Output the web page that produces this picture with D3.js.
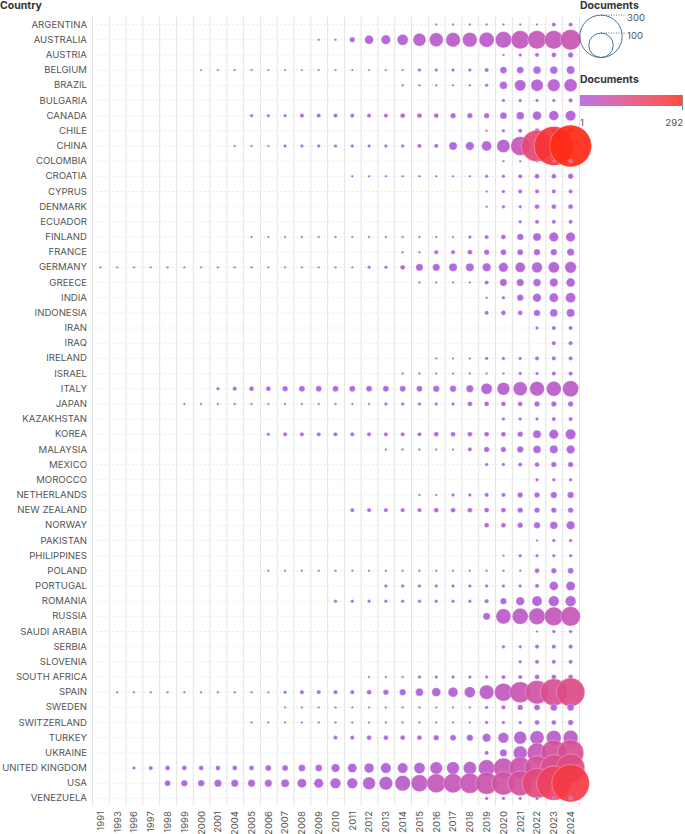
<!DOCTYPE html>
<html>
<head>
<meta charset="utf-8">
<script src="https://cdn.jsdelivr.net/npm/d3@7"></script>
<style>
  html, body { margin: 0; padding: 0; background: #fff; }
  svg { display: block; font-family: Inter, "Noto Sans", sans-serif; }
</style>
</head>
<body>
<svg id="chart" width="685" height="834"></svg>
<script>
const years = [1991, 1993, 1996, 1997, 1998, 1999, 2000, 2001, 2004, 2005, 2006, 2007, 2008, 2009, 2010, 2011, 2012, 2013, 2014, 2015, 2016, 2017, 2018, 2019, 2020, 2021, 2022, 2023, 2024];

const countries = ["ARGENTINA", "AUSTRALIA", "AUSTRIA", "BELGIUM", "BRAZIL", "BULGARIA", "CANADA", "CHILE", "CHINA", "COLOMBIA", "CROATIA", "CYPRUS", "DENMARK", "ECUADOR", "FINLAND", "FRANCE", "GERMANY", "GREECE", "INDIA", "INDONESIA", "IRAN", "IRAQ", "IRELAND", "ISRAEL", "ITALY", "JAPAN", "KAZAKHSTAN", "KOREA", "MALAYSIA", "MEXICO", "MOROCCO", "NETHERLANDS", "NEW ZEALAND", "NORWAY", "PAKISTAN", "PHILIPPINES", "POLAND", "PORTUGAL", "ROMANIA", "RUSSIA", "SAUDI ARABIA", "SERBIA", "SLOVENIA", "SOUTH AFRICA", "SPAIN", "SWEDEN", "SWITZERLAND", "TURKEY", "UKRAINE", "UNITED KINGDOM", "USA", "VENEZUELA"];

// cumulative documents per country (rows) and year (columns, same order as `years`); 0 = no record
const documents = [
  /* ARGENTINA */    [0,0,0,0,0,0,0,0,0,0,0,0,0,0,0,0,0,0,0,0,1,1,1,1,1,1,1,3,3],
  /* AUSTRALIA */    [0,0,0,0,0,0,0,0,0,0,0,0,0,1,1,5,13,15,20,28,32,35,36,38,45,56,57,58,70],
  /* AUSTRIA */      [0,0,0,0,0,0,0,0,0,0,0,0,0,0,0,0,0,0,0,0,0,0,0,0,1,2,3,4,5],
  /* BELGIUM */      [0,0,0,0,0,0,1,1,1,1,1,1,1,1,1,1,1,1,1,2,2,2,2,3,8,8,10,10,11],
  /* BRAZIL */       [0,0,0,0,0,0,0,0,0,0,0,0,0,0,0,0,0,0,1,1,1,1,1,2,10,21,25,26,28],
  /* BULGARIA */     [0,0,0,0,0,0,0,0,0,0,0,0,0,0,0,0,0,0,0,0,0,0,0,0,2,2,2,2,3],
  /* CANADA */       [0,0,0,0,0,0,0,0,0,2,2,2,3,3,3,3,3,3,4,4,4,5,5,5,8,10,13,16,18],
  /* CHILE */        [0,0,0,0,0,0,0,0,0,0,0,0,0,0,0,0,0,0,0,0,0,0,0,1,2,3,4,4,5],
  /* CHINA */        [0,0,0,0,0,0,0,0,1,1,1,2,2,2,2,2,2,2,2,3,3,11,12,17,29,60,165,255,292],
  /* COLOMBIA */     [0,0,0,0,0,0,0,0,0,0,0,0,0,0,0,0,0,0,0,0,0,0,0,0,1,1,1,1,2],
  /* CROATIA */      [0,0,0,0,0,0,0,0,0,0,0,0,0,0,0,1,1,1,1,1,1,1,1,2,2,3,4,4,5],
  /* CYPRUS */       [0,0,0,0,0,0,0,0,0,0,0,0,0,0,0,0,0,0,0,0,0,0,0,1,2,3,3,3,3],
  /* DENMARK */      [0,0,0,0,0,0,0,0,0,0,0,0,0,0,0,0,0,0,0,0,0,0,0,1,2,2,4,4,4],
  /* ECUADOR */      [0,0,0,0,0,0,0,0,0,0,0,0,0,0,0,0,0,0,0,0,0,0,0,0,0,2,3,3,3],
  /* FINLAND */      [0,0,0,0,0,0,0,0,0,1,1,1,1,1,1,1,1,1,1,1,1,1,2,3,4,7,11,15,15],
  /* FRANCE */       [0,0,0,0,0,0,0,0,0,0,0,0,0,0,0,0,0,0,1,1,3,3,4,5,6,6,7,7,9],
  /* GERMANY */      [1,1,1,1,1,1,1,1,1,1,1,1,1,1,1,1,2,2,4,9,9,11,11,12,15,17,19,21,22],
  /* GREECE */       [0,0,0,0,0,0,0,0,0,0,0,0,0,0,0,0,0,0,0,1,1,1,1,3,9,9,10,12,13],
  /* INDIA */        [0,0,0,0,0,0,0,0,0,0,0,0,0,0,0,0,0,0,0,0,0,0,0,1,2,7,12,14,17],
  /* INDONESIA */    [0,0,0,0,0,0,0,0,0,0,0,0,0,0,0,0,0,0,0,0,0,0,0,3,4,4,7,10,11],
  /* IRAN */         [0,0,0,0,0,0,0,0,0,0,0,0,0,0,0,0,0,0,0,0,0,0,0,0,0,0,2,3,3],
  /* IRAQ */         [0,0,0,0,0,0,0,0,0,0,0,0,0,0,0,0,0,0,0,0,0,0,0,0,0,0,0,3,3],
  /* IRELAND */      [0,0,0,0,0,0,0,0,0,0,0,0,0,0,0,0,0,0,0,0,1,1,1,2,2,2,3,3,3],
  /* ISRAEL */       [0,0,0,0,0,0,0,0,0,0,0,0,0,0,0,0,0,0,1,1,1,1,1,1,1,2,2,3,3],
  /* ITALY */        [0,0,0,0,0,0,0,2,3,4,4,5,6,6,6,6,6,6,6,6,7,7,9,21,27,33,36,37,43],
  /* JAPAN */        [0,0,0,0,0,1,1,1,1,1,1,1,1,1,1,1,1,2,2,2,2,2,4,4,4,4,5,5,5],
  /* KAZAKHSTAN */   [0,0,0,0,0,0,0,0,0,0,0,0,0,0,0,0,0,0,0,0,0,0,0,0,2,2,2,3,3],
  /* KOREA */        [0,0,0,0,0,0,0,0,0,0,2,3,3,3,3,3,3,3,3,3,4,4,4,4,4,5,11,15,18],
  /* MALAYSIA */     [0,0,0,0,0,0,0,0,0,0,0,0,0,0,0,0,0,1,1,1,1,1,3,5,5,7,10,11,12],
  /* MEXICO */       [0,0,0,0,0,0,0,0,0,0,0,0,0,0,0,0,0,0,0,0,0,0,0,2,2,3,4,5,5],
  /* MOROCCO */      [0,0,0,0,0,0,0,0,0,0,0,0,0,0,0,0,0,0,0,0,0,0,0,0,0,0,2,2,2],
  /* NETHERLANDS */  [0,0,0,0,0,0,0,0,0,0,0,0,0,0,0,0,0,0,0,1,1,2,2,3,3,5,5,7,7],
  /* NEW ZEALAND */  [0,0,0,0,0,0,0,0,0,0,0,0,0,0,0,3,3,3,3,3,4,4,4,4,4,5,5,5,5],
  /* NORWAY */       [0,0,0,0,0,0,0,0,0,0,0,0,0,0,0,0,0,0,0,0,0,0,0,4,4,5,7,10,12],
  /* PAKISTAN */     [0,0,0,0,0,0,0,0,0,0,0,0,0,0,0,0,0,0,0,0,0,0,0,0,0,0,1,2,2],
  /* PHILIPPINES */  [0,0,0,0,0,0,0,0,0,0,0,0,0,0,0,0,0,0,0,0,0,0,0,0,1,2,2,2,2],
  /* POLAND */       [0,0,0,0,0,0,0,0,0,0,1,1,1,1,1,1,1,1,1,1,1,1,1,1,1,1,4,5,6],
  /* PORTUGAL */     [0,0,0,0,0,0,0,0,0,0,0,0,0,0,0,0,0,2,2,2,2,2,2,2,2,2,3,13,14],
  /* ROMANIA */      [0,0,0,0,0,0,0,0,0,0,0,0,0,0,2,2,2,2,2,2,2,2,2,3,7,12,17,19,19],
  /* RUSSIA */       [0,0,0,0,0,0,0,0,0,0,0,0,0,0,0,0,0,0,0,0,0,0,0,9,38,43,46,58,64],
  /* SAUDI ARABIA */ [0,0,0,0,0,0,0,0,0,0,0,0,0,0,0,0,0,0,0,0,0,0,0,0,0,0,1,2,2],
  /* SERBIA */       [0,0,0,0,0,0,0,0,0,0,0,0,0,0,0,0,0,0,0,0,0,0,0,0,2,2,3,3,3],
  /* SLOVENIA */     [0,0,0,0,0,0,0,0,0,0,0,0,0,0,0,0,0,0,0,0,0,0,0,0,0,2,3,3,3],
  /* SOUTH AFRICA */ [0,0,0,0,0,0,0,0,0,0,0,0,0,0,0,0,1,1,1,2,2,2,2,2,3,3,4,4,4],
  /* SPAIN */        [0,1,1,1,1,1,1,1,1,1,1,2,3,3,3,3,4,5,7,10,13,16,20,35,54,74,91,120,135],
  /* SWEDEN */       [0,0,0,0,0,0,0,0,0,0,0,1,1,1,1,1,1,1,1,1,1,1,1,2,3,5,6,8,8],
  /* SWITZERLAND */  [0,0,0,0,0,0,0,0,0,1,1,1,1,1,1,1,1,1,1,1,1,1,1,2,2,2,4,4,5],
  /* TURKEY */       [0,0,0,0,0,0,0,0,0,0,0,0,0,0,3,3,4,4,4,4,5,6,7,12,19,27,33,36,37],
  /* UKRAINE */      [0,0,0,0,0,0,0,0,0,0,0,0,0,0,0,0,0,0,0,0,0,0,0,3,9,32,65,108,115],
  /* UNITED KINGDOM */[0,0,2,3,4,4,4,4,4,4,6,6,8,8,12,14,16,18,18,21,26,27,29,45,66,80,100,120,135],
  /* USA */          [0,0,0,0,6,7,7,9,9,9,9,11,14,15,19,19,27,30,40,47,60,62,68,80,92,103,150,195,235],
  /* VENEZUELA */    [0,0,0,0,0,0,0,0,0,0,0,0,0,0,0,0,0,0,0,0,0,0,0,2,2,2,2,2,2]
];

const sizeLegendValues = [300, 100];
const colorDomain = [1, 292];

// ---- build points
const points = [];
countries.forEach((c, i) => {
  years.forEach((yr, j) => {
    const v = documents[i][j];
    if (v > 0) points.push({ country: c, year: yr, value: v });
  });
});

const svg = d3.select("#chart");
const plot = { left: 92, right: 579, top: 17, bottom: 806 };

const x = d3.scaleBand().domain(years).range([plot.left, plot.right]);
const y = d3.scaleBand().domain(countries).range([plot.top, plot.bottom]);
const r = d3.scaleSqrt().domain([0, 300]).range([0, 21.2]);
const color = d3.scaleLinear().domain(colorDomain).range(["#a75fe2", "#ff2a16"]).interpolate(d3.interpolateLab);

// grid
const grid = svg.append("g");
grid.selectAll("line.v").data(years.map(d => x(d)).concat([plot.right]))
  .join("line").attr("class", "v")
  .attr("x1", d => d + 0.5).attr("x2", d => d + 0.5)
  .attr("y1", plot.top).attr("y2", plot.bottom)
  .attr("stroke", "#e4e4e4").attr("stroke-width", 1);
grid.selectAll("line.h").data(countries)
  .join("line").attr("class", "h")
  .attr("x1", plot.left).attr("x2", plot.right)
  .attr("y1", d => y(d) + y.bandwidth() / 2).attr("y2", d => y(d) + y.bandwidth() / 2)
  .attr("stroke", "#ececec").attr("stroke-width", 1).attr("stroke-dasharray", "2,2");

// y axis
const yAxis = svg.append("g").attr("transform", `translate(${plot.left},0)`)
  .call(d3.axisLeft(y).tickSize(0).tickPadding(5));
yAxis.select(".domain").remove();
yAxis.selectAll("text").attr("fill", "#555").attr("font-size", 9.6).attr("font-family", "Inter, sans-serif");

// x axis
const xAxis = svg.append("g").attr("transform", `translate(0,${plot.bottom})`)
  .call(d3.axisBottom(x).tickSize(0).tickPadding(0));
xAxis.select(".domain").remove();
xAxis.selectAll("text")
  .attr("fill", "#555").attr("font-size", 9.6).attr("font-family", "Inter, sans-serif")
  .attr("text-anchor", "end")
  .attr("transform", "translate(0,5) rotate(-90)")
  .attr("x", 0).attr("y", 0).attr("dy", "0.35em");

// title
svg.append("text").attr("x", 0).attr("y", 9).text("Country")
  .attr("font-weight", 700).attr("font-size", 10.5).attr("fill", "#333");

// bubbles
svg.append("g").selectAll("circle").data(points).join("circle")
  .attr("cx", d => x(d.year) + x.bandwidth() / 2)
  .attr("cy", d => y(d.country) + y.bandwidth() / 2)
  .attr("r", d => r(d.value))
  .attr("fill", d => color(d.value))
  .attr("fill-opacity", 0.92)
  .attr("stroke", "#fff").attr("stroke-opacity", 0.6).attr("stroke-width", 0.5);

// size legend
const lg = svg.append("g");
lg.append("text").attr("x", 580).attr("y", 9).text("Documents")
  .attr("font-weight", 700).attr("font-size", 10.5).attr("fill", "#333");
const cx0 = 601, base = 57.5;
sizeLegendValues.forEach(v => {
  const rr = r(v);
  lg.append("circle").attr("cx", cx0).attr("cy", base - rr).attr("r", rr)
    .attr("fill", "none").attr("stroke", "#4e7290").attr("stroke-width", 1);
  lg.append("line").attr("x1", cx0).attr("x2", 625)
    .attr("y1", base - 2 * rr).attr("y2", base - 2 * rr)
    .attr("stroke", "#4e7290").attr("stroke-width", 1).attr("stroke-dasharray", "1,1.5");
  lg.append("text").attr("x", 627).attr("y", base - 2 * rr + 3).attr("dy", "0.35em")
    .text(v).attr("font-size", 9.6).attr("fill", "#555");
});

// color legend
const cl = svg.append("g");
cl.append("text").attr("x", 580).attr("y", 83).text("Documents")
  .attr("font-weight", 700).attr("font-size", 10.5).attr("fill", "#333");
const defs = svg.append("defs");
const grad = defs.append("linearGradient").attr("id", "cgrad");
d3.range(0, 1.0001, 0.05).forEach(t => {
  grad.append("stop").attr("offset", t).attr("stop-color", color(colorDomain[0] + t * (colorDomain[1] - colorDomain[0])));
});
cl.append("rect").attr("x", 580).attr("y", 95).attr("width", 103).attr("height", 11)
  .attr("fill", "url(#cgrad)").attr("opacity", 0.85);
cl.append("line").attr("x1", 682.5).attr("x2", 682.5).attr("y1", 95).attr("y2", 110)
  .attr("stroke", "#888").attr("stroke-width", 1);
cl.append("text").attr("x", 580).attr("y", 126).text(colorDomain[0])
  .attr("font-size", 9.6).attr("fill", "#555");
cl.append("text").attr("x", 683).attr("y", 126).attr("text-anchor", "end").text(colorDomain[1])
  .attr("font-size", 9.6).attr("fill", "#555");
</script>
</body>
</html>
